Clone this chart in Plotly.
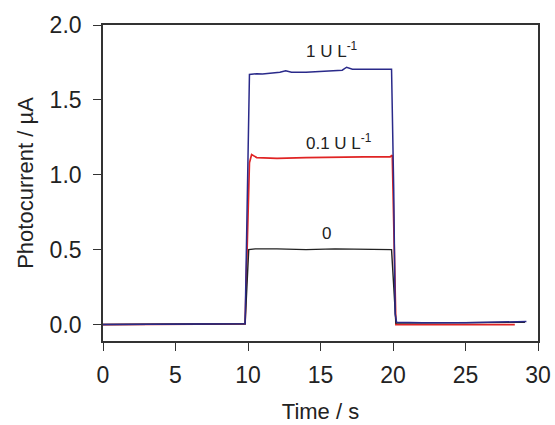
import plotly.graph_objects as go

# Time (s) and photocurrent (µA) readings
t_zero = [0, 5, 9.8, 10.05, 10.5, 12, 14, 16, 18, 19.9, 20.2, 22, 25, 28.5, 29.1]
i_zero = [0.0, 0.002, 0.005, 0.50, 0.505, 0.505, 0.50, 0.505, 0.505, 0.50, 0.01, 0.01, 0.01, 0.012, 0.015]

t_low = [0, 5, 9.8, 10.1, 10.25, 10.6, 12, 14, 16, 18, 19.8, 19.95, 20.2, 22, 25, 28.4]
i_low = [0.0, 0.002, 0.005, 1.08, 1.135, 1.115, 1.11, 1.115, 1.12, 1.12, 1.12, 1.13, 0.0, 0.0, 0.0, 0.0]

t_high = [0, 5, 9.8, 10.1, 10.6, 11, 11.6, 12.2, 12.6, 13, 14, 15, 16, 16.5, 16.8, 17.2, 18, 19, 19.9, 20.05, 20.15, 20.25, 22, 25, 28, 29.2]
i_high = [0.0, 0.003, 0.006, 1.67, 1.675, 1.672, 1.678, 1.685, 1.695, 1.685, 1.685, 1.692, 1.695, 1.698, 1.718, 1.705, 1.705, 1.703, 1.705, 0.9, 0.07, 0.015, 0.012, 0.012, 0.015, 0.02]

labels = ["0", "0.1 U L<sup>-1</sup>", "1 U L<sup>-1</sup>"]
label_x = [15.4, 16.3, 15.8]
label_y = [0.61, 1.22, 1.83]

FONT = "Liberation Sans, Arial"

fig = go.Figure()
fig.add_trace(go.Scatter(x=t_low, y=i_low, mode="lines", line=dict(color="#e02424", width=1.7), showlegend=False))
fig.add_trace(go.Scatter(x=t_zero, y=i_zero, mode="lines", line=dict(color="#222222", width=1.4), showlegend=False))
fig.add_trace(go.Scatter(x=t_high, y=i_high, mode="lines", line=dict(color="#2a2a8a", width=1.5), showlegend=False))

for txt, x, y in zip(labels, label_x, label_y):
    fig.add_annotation(x=x, y=y, text=txt, showarrow=False,
                       font=dict(family=FONT, size=17, color="#222"))

axis_common = dict(showline=True, linecolor="#333", linewidth=1.6, mirror=True,
                   ticks="outside", ticklen=8, tickwidth=1.4, tickcolor="#333",
                   showgrid=False, zeroline=False, automargin=False,
                   tickfont=dict(family=FONT, size=23, color="#222"),
                   title_font=dict(family=FONT, size=22, color="#222"))

fig.update_xaxes(range=[0, 30], tickvals=[0, 5, 10, 15, 20, 25, 30],
                 ticklabelstandoff=5,
                 title_text="Time / s", title_standoff=16, **axis_common)
fig.update_yaxes(range=[-0.11, 2.0], tickvals=[0, 0.5, 1.0, 1.5, 2.0],
                 ticktext=["0.0", "0.5", "1.0", "1.5", "2.0"],
                 ticklabelstandoff=7,
                 title_text="Photocurrent / µA", title_standoff=10, **axis_common)

fig.update_layout(width=555, height=425, margin=dict(l=103, r=17, t=25, b=84),
                  paper_bgcolor="white", plot_bgcolor="white")

fig.write_html("out.html")
